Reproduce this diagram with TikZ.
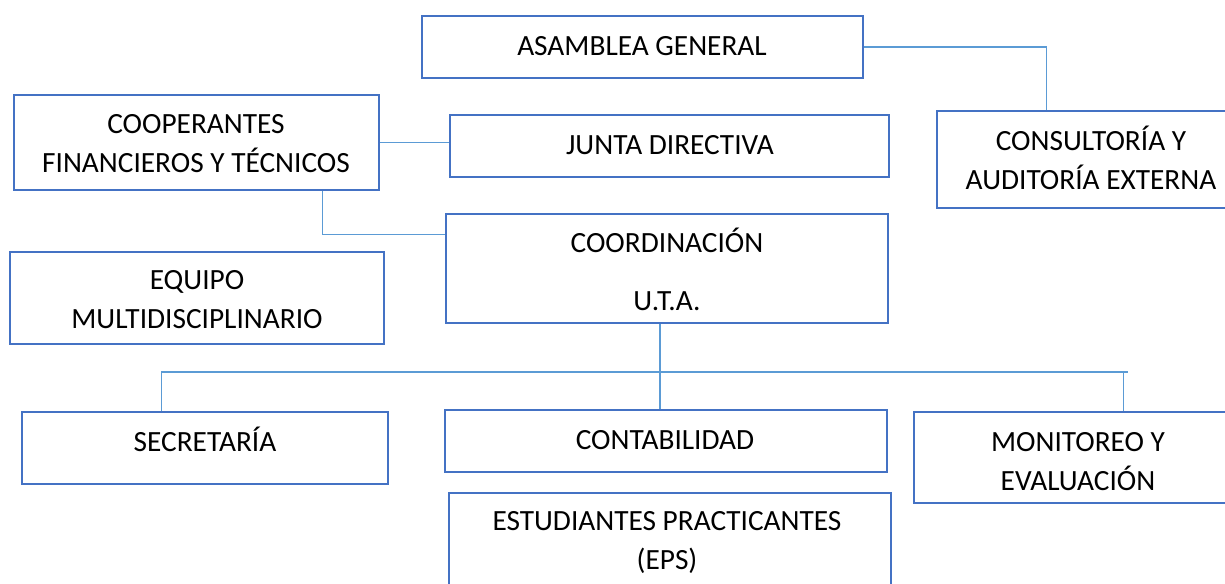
\documentclass[tikz,border=0pt]{standalone}
\usepackage{fontspec}
\setmainfont{Carlito}
\usepackage{tikz}
\usetikzlibrary{fit, calc}
\definecolor{boxblue}{RGB}{68, 114, 196}
\definecolor{linkblue}{RGB}{91, 155, 213}

\begin{document}
\begin{tikzpicture}[x=0.75pt, y=-0.75pt,
    box/.style={draw=boxblue, line width=2pt, inner sep=0pt, rectangle},
    link/.style={draw=linkblue, line width=0.9pt},
    lbl/.style={anchor=base, align=center, inner sep=0pt,
      font=\fontsize{22pt}{29.25pt}\selectfont}]
  \useasboundingbox (0, 0) rectangle (1225, 583);
  \clip (0, 0) rectangle (1225, 583);

  % boxes
  \node[box, fit={(422, 16) (863, 78)}] (asamblea) {};
  \node[box, fit={(450, 115) (889, 177)}] (junta) {};
  \node[box, fit={(14, 95) (379, 190)}] (coop) {};
  \node[box, fit={(937, 111) (1245, 208)}] (consult) {};
  \node[box, fit={(446, 214) (888, 323)}] (coord) {};
  \node[box, fit={(10, 252) (384, 344)}] (equipo) {};
  \node[box, fit={(22, 412) (388, 484)}] (secret) {};
  \node[box, fit={(445, 410) (887, 472)}] (contab) {};
  \node[box, fit={(914, 412) (1242, 503)}] (monitor) {};
  \node[box, fit={(449, 493) (891, 600)}] (estud) {};

  % texts (base = last line)
  \node[lbl] (asambleatxt) at (642, 55) {ASAMBLEA GENERAL};
  \node[lbl] (juntatxt) at (670, 154) {JUNTA DIRECTIVA};
  \node[lbl] (cooptxt) at (196, 172) {COOPERANTES\\FINANCIEROS Y TÉCNICOS};
  \node[lbl] (consulttxt) at (1091, 189) {CONSULTORÍA Y\\AUDITORÍA EXTERNA};
  \node[lbl] (coordtxt) at (667, 310) {COORDINACIÓN\\[14pt]U.T.A.};
  \node[lbl] (equipotxt) at (197, 328) {EQUIPO\\MULTIDISCIPLINARIO};
  \node[lbl] (secrettxt) at (205, 451) {SECRETARÍA};
  \node[lbl] (contabtxt) at (665, 449) {CONTABILIDAD};
  \node[lbl] (monitortxt) at (1078, 490) {MONITOREO Y\\EVALUACIÓN};
  \node[lbl] (estudtxt) at (667, 569) {ESTUDIANTES PRACTICANTES\\(EPS)};

  % connectors
  \coordinate (bus) at (660, 372);
  \draw[link] (asamblea.east) -| ($(consult.north west)+(111, 0)$);
  \draw[link] ($(asamblea.south)+(5, 0)$) -- ($(asamblea.south)+(5, 0)$ |- junta.north);
  \draw[link] (coop.east) -- (coop.east -| junta.west);
  \draw[link] ($(junta.east)+(0, -8)$) -- ($(junta.east)+(0, -8)$ -| consult.west);
  \draw[link] ($(junta.south)+(-19, 0)$) -- ($(junta.south)+(-19, 0)$ |- coord.north);
  \draw[link] ($(coop.south west)+(310, 0)$) |- ($(coord.north west)+(0, 22)$);
  \draw[link] ($(equipo.east)+(0, -6)$) -- ($(equipo.east)+(0, -6)$ -| coord.west);
  \draw[link] (bus |- coord.south) -- (bus |- contab.north);
  \draw[link] ($(secret.north west)+(141, 0)$) |- ($(bus)+(468, 0)$);
  \draw[link] ($(monitor.north west)+(211, 0)$) -- ($(monitor.north west)+(211, -40)$);
  \draw[link] ($(contab.south)+(-1, 0)$) -- ($(contab.south)+(-1, 0)$ |- estud.north);
\end{tikzpicture}
\end{document}
